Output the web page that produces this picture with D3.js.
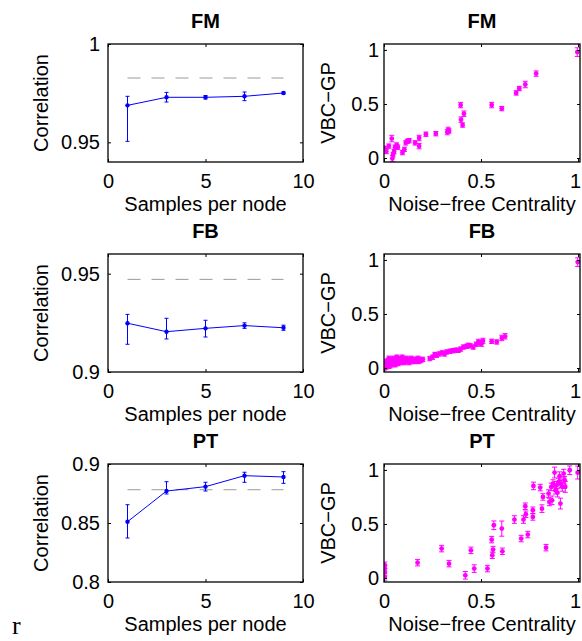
<!DOCTYPE html>
<html>
<head>
<meta charset="utf-8">
<script src="https://cdn.jsdelivr.net/npm/d3@7"></script>
<style>
body { margin: 0; background: #fff; }
text { font-family: "Liberation Sans", Arial, Helvetica, sans-serif; }
</style>
</head>
<body>
<div id="fig"></div>
<script>
// ---- data ----
var titles = ["FM", "FB", "PT"];
var samples = [1, 3, 5, 7, 9];

var fmCorr = [0.9688, 0.9729, 0.9729, 0.9734, 0.9751];
var fmLow  = [0.9505, 0.9705, 0.9720, 0.9712, 0.9746];
var fmHigh = [0.9734, 0.9754, 0.9738, 0.9756, 0.9756];
var fmBase = 0.9827;

var fbCorr = [0.9248, 0.9205, 0.9222, 0.9236, 0.9225];
var fbLow  = [0.9141, 0.9168, 0.9178, 0.9222, 0.9212];
var fbHigh = [0.9293, 0.9273, 0.9263, 0.9250, 0.9238];
var fbBase = 0.9471;

var ptCorr = [0.8511, 0.8771, 0.8808, 0.8901, 0.8890];
var ptLow  = [0.8373, 0.8746, 0.8771, 0.8845, 0.8836];
var ptHigh = [0.8655, 0.8850, 0.8845, 0.8930, 0.8935];
var ptBase = 0.8782;

var corrDomains = [[0.94, 1], [0.9, 0.96], [0.8, 0.9]];
var corrTicks = [[0.95, 1], [0.9, 0.95], [0.8, 0.85, 0.9]];
var sampleTicks = [0, 5, 10];
var centTicks = [0, 0.5, 1];

// [noise-free centrality, VBC-GP, error]
var fmScatter = [
  [0.005, 0.09, 0.02], [0.012, 0.06, 0.02], [0.025, 0.11, 0.02], [0.040, 0.18, 0.03],
  [0.043, -0.005, 0.03], [0.047, 0.03, 0.02], [0.052, 0.06, 0.02], [0.057, 0.10, 0.02],
  [0.065, 0.12, 0.02], [0.071, 0.10, 0.02], [0.095, 0.05, 0.02], [0.105, 0.08, 0.02],
  [0.112, 0.14, 0.02], [0.120, 0.155, 0.02], [0.130, 0.16, 0.02], [0.160, 0.14, 0.02],
  [0.181, 0.185, 0.025], [0.181, 0.11, 0.025], [0.216, 0.22, 0.02], [0.267, 0.225, 0.02],
  [0.326, 0.24, 0.025], [0.331, 0.26, 0.025], [0.335, 0.25, 0.02], [0.395, 0.49, 0.025],
  [0.397, 0.355, 0.025], [0.405, 0.305, 0.02], [0.412, 0.41, 0.025], [0.555, 0.49, 0.025],
  [0.607, 0.457, 0.02], [0.681, 0.602, 0.02], [0.697, 0.643, 0.02], [0.728, 0.680, 0.03],
  [0.784, 0.781, 0.025], [0.996, 0.98, 0.04]
];

var fbScatter = [
  [0.001, 0.00, 0.02], [0.002, 0.01, 0.02], [0.003, 0.03, 0.02], [0.004, 0.005, 0.02],
  [0.005, 0.02, 0.02], [0.006, 0.045, 0.02], [0.007, 0.015, 0.02], [0.008, 0.04, 0.02],
  [0.010, 0.03, 0.02], [0.011, 0.01, 0.02], [0.012, 0.06, 0.02], [0.014, 0.035, 0.02],
  [0.015, 0.02, 0.02], [0.018, 0.05, 0.02], [0.019, 0.025, 0.02], [0.020, 0.07, 0.02],
  [0.022, 0.03, 0.02], [0.024, 0.015, 0.02], [0.025, 0.09, 0.02], [0.028, 0.05, 0.02],
  [0.030, 0.04, 0.02], [0.031, 0.02, 0.02], [0.033, 0.07, 0.02], [0.035, 0.06, 0.02],
  [0.038, 0.08, 0.02], [0.040, 0.03, 0.02], [0.043, 0.05, 0.02], [0.045, 0.07, 0.02],
  [0.048, 0.09, 0.02], [0.050, 0.04, 0.02], [0.053, 0.06, 0.02], [0.056, 0.08, 0.02],
  [0.058, 0.03, 0.02], [0.060, 0.05, 0.02], [0.063, 0.07, 0.02], [0.066, 0.10, 0.02],
  [0.070, 0.06, 0.02], [0.073, 0.04, 0.02], [0.076, 0.08, 0.02], [0.080, 0.06, 0.02],
  [0.083, 0.09, 0.02], [0.086, 0.05, 0.02], [0.090, 0.07, 0.02], [0.094, 0.10, 0.02],
  [0.098, 0.06, 0.02], [0.100, 0.08, 0.02], [0.105, 0.05, 0.02], [0.110, 0.07, 0.02],
  [0.115, 0.09, 0.02], [0.120, 0.06, 0.02], [0.125, 0.08, 0.02], [0.130, 0.05, 0.02],
  [0.135, 0.07, 0.02], [0.140, 0.09, 0.02], [0.145, 0.06, 0.02], [0.150, 0.08, 0.02],
  [0.155, 0.07, 0.02], [0.160, 0.06, 0.02], [0.165, 0.08, 0.02], [0.170, 0.07, 0.02],
  [0.175, 0.09, 0.02], [0.180, 0.06, 0.02], [0.185, 0.08, 0.02], [0.190, 0.07, 0.02],
  [0.200, 0.08, 0.02], [0.236, 0.087, 0.02], [0.250, 0.10, 0.02], [0.262, 0.125, 0.02],
  [0.271, 0.118, 0.02], [0.285, 0.13, 0.02], [0.300, 0.14, 0.02], [0.312, 0.13, 0.02],
  [0.323, 0.148, 0.02], [0.340, 0.155, 0.02], [0.355, 0.16, 0.02], [0.370, 0.165, 0.02],
  [0.383, 0.164, 0.02], [0.395, 0.175, 0.02], [0.409, 0.194, 0.02], [0.425, 0.20, 0.02],
  [0.434, 0.21, 0.02], [0.445, 0.205, 0.02], [0.460, 0.194, 0.02], [0.475, 0.22, 0.02],
  [0.486, 0.241, 0.025], [0.495, 0.23, 0.025], [0.503, 0.226, 0.025], [0.510, 0.25, 0.025],
  [0.555, 0.247, 0.02], [0.581, 0.241, 0.02], [0.607, 0.278, 0.025], [0.624, 0.293, 0.025],
  [0.998, 0.98, 0.04]
];

var ptScatter = [
  [0.004, 0.118, 0.03], [0.004, 0.087, 0.03], [0.004, 0.056, 0.03], [0.004, 0.010, 0.03],
  [0.173, 0.142, 0.03], [0.297, 0.272, 0.03], [0.335, 0.133, 0.03], [0.419, 0.025, 0.035],
  [0.448, 0.256, 0.03], [0.465, 0.087, 0.035], [0.533, 0.087, 0.03], [0.555, 0.355, 0.03],
  [0.558, 0.210, 0.03], [0.562, 0.263, 0.03], [0.566, 0.488, 0.04], [0.607, 0.457, 0.07],
  [0.610, 0.247, 0.03], [0.672, 0.541, 0.035], [0.707, 0.365, 0.03], [0.719, 0.541, 0.035],
  [0.728, 0.664, 0.03], [0.731, 0.590, 0.03], [0.741, 0.402, 0.03], [0.767, 0.627, 0.03],
  [0.767, 0.565, 0.03], [0.770, 0.852, 0.035], [0.805, 0.837, 0.03], [0.814, 0.642, 0.035],
  [0.819, 0.750, 0.03], [0.835, 0.281, 0.03], [0.848, 0.781, 0.035], [0.852, 0.704, 0.035],
  [0.862, 0.843, 0.035], [0.866, 0.719, 0.04], [0.871, 0.874, 0.035], [0.879, 0.976, 0.05],
  [0.883, 0.812, 0.035], [0.888, 0.858, 0.035], [0.894, 0.790, 0.04], [0.900, 0.889, 0.035],
  [0.905, 0.942, 0.04], [0.909, 0.689, 0.05], [0.912, 0.874, 0.035], [0.919, 0.843, 0.04],
  [0.926, 0.966, 0.04], [0.931, 0.905, 0.035], [0.934, 0.843, 0.05], [0.957, 0.997, 0.04],
  [0.998, 0.976, 0.06]
];

var lineData = [
  {corr: fmCorr, low: fmLow, high: fmHigh, base: fmBase},
  {corr: fbCorr, low: fbLow, high: fbHigh, base: fbBase},
  {corr: ptCorr, low: ptLow, high: ptHigh, base: ptBase}
];
var scatterData = [fmScatter, fbScatter, ptScatter];

// ---- layout ----
var svg = d3.select('#fig').append('svg')
  .attr('width', 582)
  .attr('height', 641);

var rowTop = [44, 254, 464];
var boxH = 118;
var leftBox = {x: 108, w: 195};
var rightBox = {x: 384, w: 196};
var blue = '#0000ff', magenta = '#ff00ff';
var fs = '20px';

function frame(g, x, y, w, h, xticks, yticks, xfmt, yfmt, ypad) {
  g.append('g')
    .attr('class', 'xax')
    .attr('transform', 'translate(0,' + h + ')')
    .call(d3.axisBottom(x).tickValues(xticks).tickSize(-3).tickPadding(12).tickFormat(xfmt));
  g.append('g')
    .call(d3.axisTop(x).tickValues(xticks).tickSize(-3).tickFormat(''));
  g.append('g')
    .call(d3.axisLeft(y).tickValues(yticks).tickSize(-3).tickPadding(ypad).tickFormat(yfmt));
  g.append('g')
    .attr('transform', 'translate(' + w + ',0)')
    .call(d3.axisRight(y).tickValues(yticks).tickSize(-3).tickFormat(''));
  g.selectAll('.domain').remove();
  g.selectAll('.tick line').attr('stroke', '#000');
  g.selectAll('.tick text').attr('fill', '#000').style('font-size', fs);
  g.append('rect')
    .attr('width', w).attr('height', h)
    .attr('fill', 'none').attr('stroke', '#000').attr('stroke-width', 1.3);
}

function labels(g, w, h, title, xlab, ylab, ylabX) {
  g.append('text')
    .attr('x', w / 2).attr('y', -16)
    .attr('text-anchor', 'middle')
    .style('font-size', fs).style('font-weight', 'bold')
    .text(title);
  g.append('text')
    .attr('x', w / 2).attr('y', h + 49)
    .attr('text-anchor', 'middle')
    .style('font-size', fs)
    .text(xlab);
  g.append('text')
    .attr('transform', 'translate(' + ylabX + ',' + (h / 2) + ') rotate(-90)')
    .attr('text-anchor', 'middle')
    .style('font-size', fs)
    .text(ylab);
}

var numFmt = function (d) { return String(d); };

// ---- left column: correlation vs samples ----
lineData.forEach(function (d, i) {
  var g = svg.append('g')
    .attr('transform', 'translate(' + leftBox.x + ',' + rowTop[i] + ')');
  var x = d3.scaleLinear().domain([0, 10]).range([0, leftBox.w]);
  var y = d3.scaleLinear().domain(corrDomains[i]).range([boxH, 0]);

  // noise-free reference
  g.append('line')
    .attr('x1', x(samples[0])).attr('x2', x(samples[samples.length - 1]))
    .attr('y1', y(d.base)).attr('y2', y(d.base))
    .attr('stroke', '#9a9a9a').attr('stroke-width', 1)
    .attr('stroke-dasharray', '13,11');

  var pts = samples.map(function (s, k) {
    return {s: s, c: d.corr[k], lo: d.low[k], hi: d.high[k]};
  });

  g.append('path')
    .datum(pts)
    .attr('fill', 'none')
    .attr('stroke', blue)
    .attr('stroke-width', 1)
    .attr('d', d3.line().x(function (p) { return x(p.s); }).y(function (p) { return y(p.c); }));

  var eb = g.selectAll('.eb').data(pts).enter().append('g')
    .attr('stroke', blue).attr('stroke-width', 1);
  eb.append('line')
    .attr('x1', function (p) { return x(p.s); }).attr('x2', function (p) { return x(p.s); })
    .attr('y1', function (p) { return y(p.lo); }).attr('y2', function (p) { return y(p.hi); });
  [function (p) { return y(p.lo); }, function (p) { return y(p.hi); }].forEach(function (fy) {
    eb.append('line')
      .attr('x1', function (p) { return x(p.s) - 2; }).attr('x2', function (p) { return x(p.s) + 2; })
      .attr('y1', fy).attr('y2', fy);
  });
  g.selectAll('.dot').data(pts).enter().append('circle')
    .attr('cx', function (p) { return x(p.s); })
    .attr('cy', function (p) { return y(p.c); })
    .attr('r', 2.2)
    .attr('fill', blue);

  frame(g, x, y, leftBox.w, boxH, sampleTicks, corrTicks[i], numFmt, numFmt, 8);
  labels(g, leftBox.w, boxH, titles[i], 'Samples per node', 'Correlation', -60);
});

// ---- right column: VBC-GP vs noise-free centrality ----
scatterData.forEach(function (data, i) {
  var g = svg.append('g')
    .attr('transform', 'translate(' + rightBox.x + ',' + rowTop[i] + ')');
  var x = d3.scaleLinear().domain([0, 1.01]).range([0, rightBox.w]);
  var y = d3.scaleLinear().domain([-0.037, 1.055]).range([boxH, 0]);

  svg.append('clipPath').attr('id', 'clip' + i)
    .append('rect').attr('width', rightBox.w).attr('height', boxH);

  var pg = g.append('g').attr('clip-path', 'url(#clip' + i + ')');
  var eb = pg.selectAll('.eb').data(data).enter().append('g')
    .attr('stroke', magenta).attr('stroke-width', 1);
  eb.append('line')
    .attr('x1', function (p) { return x(p[0]); }).attr('x2', function (p) { return x(p[0]); })
    .attr('y1', function (p) { return y(p[1] - p[2]); }).attr('y2', function (p) { return y(p[1] + p[2]); });
  [-1, 1].forEach(function (sgn) {
    eb.append('line')
      .attr('x1', function (p) { return x(p[0]) - 2.5; }).attr('x2', function (p) { return x(p[0]) + 2.5; })
      .attr('y1', function (p) { return y(p[1] + sgn * p[2]); })
      .attr('y2', function (p) { return y(p[1] + sgn * p[2]); });
  });
  pg.selectAll('.dot').data(data).enter().append('circle')
    .attr('cx', function (p) { return x(p[0]); })
    .attr('cy', function (p) { return y(p[1]); })
    .attr('r', 2.4)
    .attr('fill', magenta);

  frame(g, x, y, rightBox.w, boxH, centTicks, centTicks, numFmt, numFmt, 5);
  // last tick label sits against the figure edge
  g.selectAll('.xax .tick text').filter(function (t) { return t === 1; }).attr('dx', -3);
  labels(g, rightBox.w, boxH, titles[i], 'Noise\u2212free Centrality', 'VBC\u2212GP', -49);
});

// stray glyph at lower left of the source figure
svg.append('text')
  .attr('x', 12).attr('y', 634)
  .style('font-family', '"Liberation Serif", "DejaVu Serif", serif')
  .style('font-size', '26px')
  .text('r');
</script>
</body>
</html>
